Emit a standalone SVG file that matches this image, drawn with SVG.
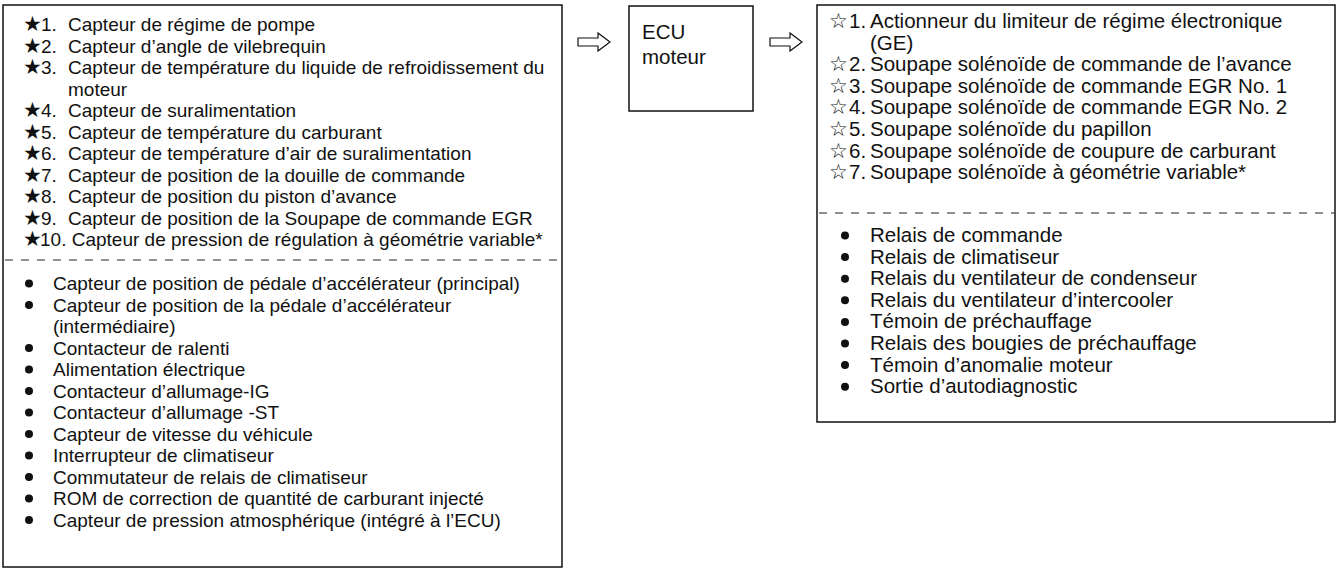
<svg xmlns="http://www.w3.org/2000/svg" width="1340" height="575" viewBox="0 0 1340 575">
<style>
.box{fill:#fff;stroke:#111;stroke-width:1.5}
.dash{stroke:#222;stroke-width:1.2;stroke-dasharray:8,8}
.t{font-family:"Liberation Sans","DejaVu Sans",Arial,sans-serif;font-size:19px;fill:#111}
.tr{font-family:"Liberation Sans","DejaVu Sans",Arial,sans-serif;font-size:20.5px;fill:#111}
.st{font-family:"DejaVu Sans",sans-serif;font-size:21px;fill:#111}
.arr{fill:#fff;stroke:#111;stroke-width:1.2}
.dot{fill:#111}
</style>
<rect width="1340" height="575" fill="#fff"/>
<g id="inputs">
<rect class="box" x="3" y="5" width="559" height="562"/>
<line class="dash" x1="5" y1="260" x2="562" y2="260"/>
<text class="st" x="23" y="31">★</text><text class="t" x="41" y="31">1.</text><text class="t" x="68" y="31">Capteur de régime de pompe</text>
<text class="st" x="23" y="52.5">★</text><text class="t" x="41" y="52.5">2.</text><text class="t" x="68" y="52.5">Capteur d’angle de vilebrequin</text>
<text class="st" x="23" y="74">★</text><text class="t" x="41" y="74">3.</text><text class="t" x="68" y="74">Capteur de température du liquide de refroidissement du</text>
<text class="t" x="68" y="95.5">moteur</text>
<text class="st" x="23" y="117">★</text><text class="t" x="41" y="117">4.</text><text class="t" x="68" y="117">Capteur de suralimentation</text>
<text class="st" x="23" y="138.5">★</text><text class="t" x="41" y="138.5">5.</text><text class="t" x="68" y="138.5">Capteur de température du carburant</text>
<text class="st" x="23" y="160">★</text><text class="t" x="41" y="160">6.</text><text class="t" x="68" y="160">Capteur de température d’air de suralimentation</text>
<text class="st" x="23" y="181.5">★</text><text class="t" x="41" y="181.5">7.</text><text class="t" x="68" y="181.5">Capteur de position de la douille de commande</text>
<text class="st" x="23" y="203">★</text><text class="t" x="41" y="203">8.</text><text class="t" x="68" y="203">Capteur de position du piston d’avance</text>
<text class="st" x="23" y="224.5">★</text><text class="t" x="41" y="224.5">9.</text><text class="t" x="68" y="224.5">Capteur de position de la Soupape de commande EGR</text>
<text class="st" x="23" y="246">★</text><text class="t" x="40" y="246">10. Capteur de pression de régulation à géométrie variable*</text>
<circle class="dot" cx="29" cy="283.5" r="4"/><text class="t" x="53" y="290">Capteur de position de pédale d’accélérateur (principal)</text>
<circle class="dot" cx="29" cy="305" r="4"/><text class="t" x="53" y="311.5">Capteur de position de la pédale d’accélérateur</text>
<text class="t" x="53" y="333">(intermédiaire)</text>
<circle class="dot" cx="29" cy="348" r="4"/><text class="t" x="53" y="354.5">Contacteur de ralenti</text>
<circle class="dot" cx="29" cy="369.5" r="4"/><text class="t" x="53" y="376">Alimentation électrique</text>
<circle class="dot" cx="29" cy="391" r="4"/><text class="t" x="53" y="397.5">Contacteur d’allumage-IG</text>
<circle class="dot" cx="29" cy="412.5" r="4"/><text class="t" x="53" y="419">Contacteur d’allumage -ST</text>
<circle class="dot" cx="29" cy="434" r="4"/><text class="t" x="53" y="440.5">Capteur de vitesse du véhicule</text>
<circle class="dot" cx="29" cy="455.5" r="4"/><text class="t" x="53" y="462">Interrupteur de climatiseur</text>
<circle class="dot" cx="29" cy="477" r="4"/><text class="t" x="53" y="483.5">Commutateur de relais de climatiseur</text>
<circle class="dot" cx="29" cy="498.5" r="4"/><text class="t" x="53" y="505">ROM de correction de quantité de carburant injecté</text>
<circle class="dot" cx="29" cy="520" r="4"/><text class="t" x="53" y="526.5">Capteur de pression atmosphérique (intégré à l’ECU)</text>
</g>
<g id="ecu">
<rect class="box" x="629" y="6" width="124" height="105"/>
<text class="tr" x="642" y="39">ECU</text>
<text class="tr" x="642" y="64">moteur</text>
</g>
<g id="outputs">
<rect class="box" x="817" y="5" width="518" height="417"/>
<line class="dash" x1="819" y1="213" x2="1335" y2="213"/>
<text class="st" x="829" y="28">☆</text><text class="tr" x="849" y="28">1.</text><text class="tr" x="870" y="28">Actionneur du limiteur de régime électronique</text>
<text class="tr" x="870" y="49.6">(GE)</text>
<text class="st" x="829" y="71.2">☆</text><text class="tr" x="849" y="71.2">2.</text><text class="tr" x="870" y="71.2">Soupape solénoïde de commande de l’avance</text>
<text class="st" x="829" y="92.8">☆</text><text class="tr" x="849" y="92.8">3.</text><text class="tr" x="870" y="92.8">Soupape solénoïde de commande EGR No. 1</text>
<text class="st" x="829" y="114.4">☆</text><text class="tr" x="849" y="114.4">4.</text><text class="tr" x="870" y="114.4">Soupape solénoïde de commande EGR No. 2</text>
<text class="st" x="829" y="136">☆</text><text class="tr" x="849" y="136">5.</text><text class="tr" x="870" y="136">Soupape solénoïde du papillon</text>
<text class="st" x="829" y="157.6">☆</text><text class="tr" x="849" y="157.6">6.</text><text class="tr" x="870" y="157.6">Soupape solénoïde de coupure de carburant</text>
<text class="st" x="829" y="179.2">☆</text><text class="tr" x="849" y="179.2">7.</text><text class="tr" x="870" y="179.2">Soupape solénoïde à géométrie variable*</text>
<circle class="dot" cx="845" cy="235.5" r="4"/><text class="tr" x="870" y="242">Relais de commande</text>
<circle class="dot" cx="845" cy="257.1" r="4"/><text class="tr" x="870" y="263.6">Relais de climatiseur</text>
<circle class="dot" cx="845" cy="278.7" r="4"/><text class="tr" x="870" y="285.2">Relais du ventilateur de condenseur</text>
<circle class="dot" cx="845" cy="300.3" r="4"/><text class="tr" x="870" y="306.8">Relais du ventilateur d’intercooler</text>
<circle class="dot" cx="845" cy="321.9" r="4"/><text class="tr" x="870" y="328.4">Témoin de préchauffage</text>
<circle class="dot" cx="845" cy="343.5" r="4"/><text class="tr" x="870" y="350">Relais des bougies de préchauffage</text>
<circle class="dot" cx="845" cy="365.1" r="4"/><text class="tr" x="870" y="371.6">Témoin d’anomalie moteur</text>
<circle class="dot" cx="845" cy="386.7" r="4"/><text class="tr" x="870" y="393.2">Sortie d’autodiagnostic</text>
</g>
<g id="connectors">
<polygon class="arr" points="578,38 598,38 598,33 610,42 598,51 598,46 578,46"/>
<polygon class="arr" points="770,38 790,38 790,33 802,42 790,51 790,46 770,46"/>
</g>
</svg>
